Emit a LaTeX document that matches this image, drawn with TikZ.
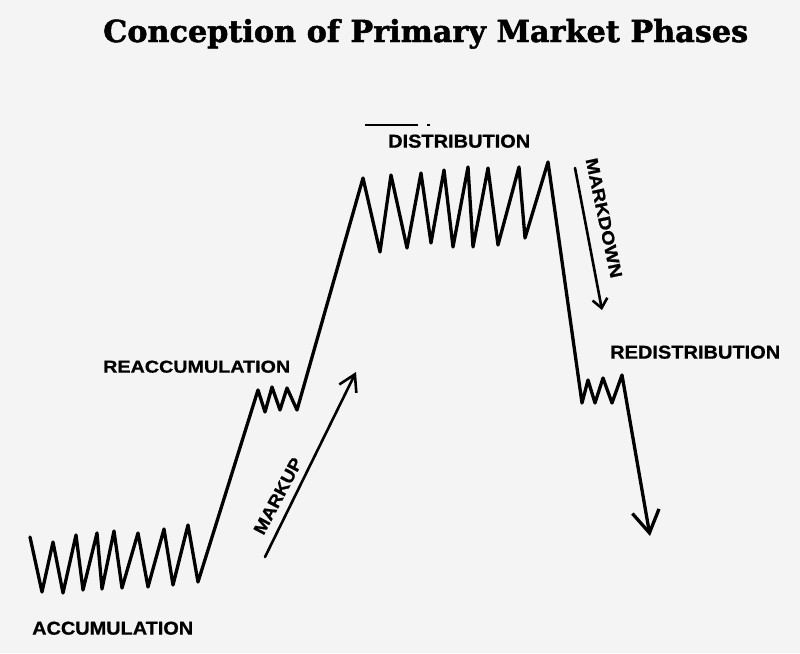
\documentclass[tikz,border=0pt]{standalone}
\usepackage{fontspec}
\usepackage{graphicx}
\setmainfont{DejaVu Serif}
\newfontfamily\titlefont[FakeBold=1.6]{DejaVu Serif Bold}
\newfontfamily\labelfont[FakeBold=0.8]{Liberation Sans Bold}
\usetikzlibrary{arrows.meta}
\definecolor{paper}{RGB}{244,244,244}
\begin{document}
\begin{tikzpicture}[x=1pt,y=-1pt,
  price/.style={line width=3.3pt,line join=round,line cap=round},
  phasearrow/.style={line width=2.6pt,line cap=round},
  lbl/.style={inner sep=0pt,font=\labelfont},
]
\fill[paper] (0,0) rectangle (800,653);
\useasboundingbox (0,0) rectangle (800,653);

% title
\node[anchor=base west,inner sep=0pt] (title) at (103,42)
  {\resizebox{645pt}{!}{\titlefont Conception of Primary Market Phases}};

% price path
\draw[price,-{Straight Barb[length=22pt,width=27pt]}]
  (30,537) -- (42,592) -- (53,542) -- (63,593) -- (76,535) -- (83,590)
  -- (97,533) -- (102,589) -- (114,531) -- (122,588) -- (138,533) -- (148,587)
  -- (164,529) -- (173,585) -- (188,525) -- (198,582)
  -- (258,390) -- (265,412) -- (272,387) -- (280,410) -- (287,388) -- (297,410)
  -- (363,178) -- (380,252) -- (391,175) -- (407,248) -- (421,173) -- (431,243)
  -- (444,170) -- (453,247) -- (468,167) -- (473,247) -- (488,168) -- (498,245)
  -- (519,167) -- (525,238) -- (548,162)
  -- (582,403) -- (588,380) -- (595,403) -- (603,378) -- (612,403) -- (622,375)
  -- (650,536);

% scan mark above DISTRIBUTION
\draw[line width=1.4pt] (365,125) -- (418,125);
\draw[line width=1.4pt] (427,125) -- (430,125);

% phase arrows
\coordinate (mu-s) at (265,557);
\coordinate (mu-e) at (356,372);
\coordinate (md-s) at (575,168);
\coordinate (md-e) at (602,310);
\draw[phasearrow,-{Straight Barb[length=16pt,width=19pt]}] (mu-s) -- (mu-e);
\draw[phasearrow,-{Straight Barb[length=9pt,width=15pt]}] (md-s) -- (md-e);

% labels
\node[lbl,anchor=south west] (acc) at (32,635)
  {\resizebox{161pt}{13pt}{ACCUMULATION}};
\node[lbl,anchor=south west] (reacc) at (103,373)
  {\resizebox{187pt}{12pt}{REACCUMULATION}};
\node[lbl,anchor=south west] (dist) at (388,148)
  {\resizebox{142pt}{13pt}{DISTRIBUTION}};
\node[lbl,anchor=south west] (redist) at (610,359)
  {\resizebox{170pt}{13pt}{REDISTRIBUTION}};
\node[lbl,rotate=62] (markup) at (278,496)
  {\resizebox{84pt}{12pt}{MARKUP}};
\node[lbl,rotate=-78] (markdown) at (604,218)
  {\resizebox{122pt}{12pt}{MARKDOWN}};
\end{tikzpicture}
\end{document}
